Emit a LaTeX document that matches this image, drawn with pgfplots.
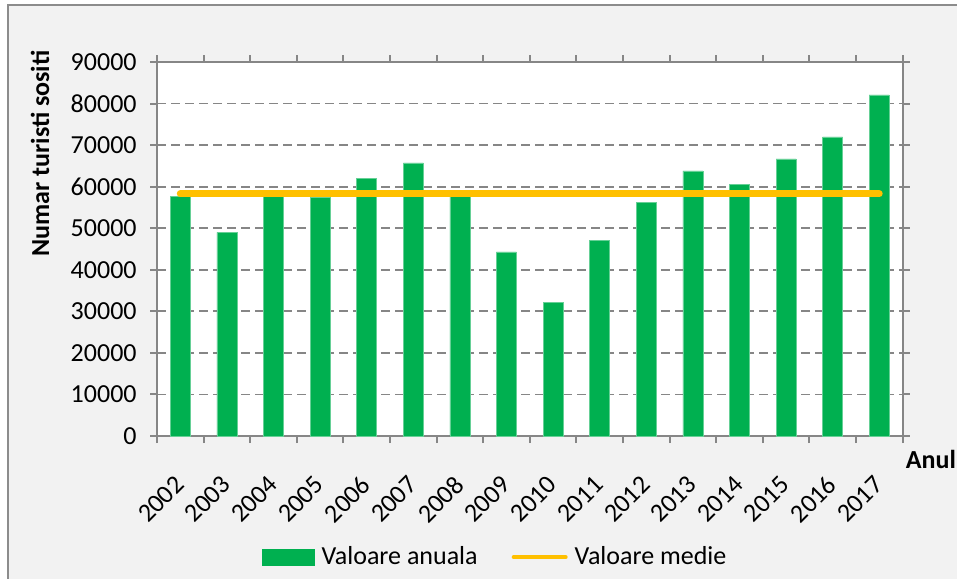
\documentclass[border=0pt]{standalone}
\usepackage{fontspec}
\setmainfont{Carlito}
\usepackage{pgfplots}
\pgfplotsset{compat=1.18}
\definecolor{bargreen}{HTML}{00B050}
\definecolor{meanorange}{HTML}{FFC000}
\definecolor{bggray}{HTML}{F2F2F2}
\definecolor{gridgray}{HTML}{868686}
\definecolor{framegray}{HTML}{8C8C8C}
\newcommand{\cfont}{\fontsize{13}{15.6}\selectfont}
\begin{document}
\begin{tikzpicture}[x=1pt,y=1pt]
\useasboundingbox (0,0) rectangle (478.5,289);
\clip (0,0) rectangle (478.5,289);
\fill[bggray] (4,-10) rectangle (490,286.5);
\draw[framegray, line width=1pt] (4,-10) -- (4,286.5) -- (490,286.5);
\begin{axis}[
  at={(78.5pt,71pt)}, anchor=south west,
  width=372.75pt, height=187pt, scale only axis,
  xmin=-0.5, xmax=15.5, ymin=0, ymax=90000,
  axis background/.style={fill=white},
  axis line style={draw=gridgray, line width=1pt},
  xtick={0,...,15},
  xticklabels={2002,2003,2004,2005,2006,2007,2008,2009,2010,2011,2012,2013,2014,2015,2016,2017},
  major x tick style={draw=none},
  minor xtick={-0.5,0.5,...,15.5},
  minor x tick style={draw=gridgray, line width=1pt},
  tick align=outside,
  major tick length=3.5pt, minor tick length=3.5pt,
  ytick={0,10000,...,90000},
  yticklabels={0,10000,20000,30000,40000,50000,60000,70000,80000,90000},
  scaled y ticks=false,
  y tick style={draw=gridgray, line width=1pt},
  ymajorgrids,
  y grid style={draw=gridgray, line width=0.9pt, dash pattern=on 4.5pt off 2.5pt},
  tick label style={font=\cfont, text=black},
  xticklabel style={yshift=-18pt, xshift=0.5pt, rotate=45, anchor=east, inner sep=1pt},
  yticklabel style={inner sep=1pt, xshift=-5.5pt},
  xlabel={Anul},
  xlabel style={at={(axis description cs:1.0382,-0.064)}, anchor=center, font=\cfont\bfseries, inner sep=0pt},
  ylabel={Numar turisti sositi},
  ylabel style={at={(axis description cs:-0.157,1.032)}, anchor=east, font=\cfont\bfseries, inner sep=0pt},
  legend columns=2,
  legend style={at={(0.455,-0.324)}, anchor=center, draw=none, fill=none,
    font=\cfont, column sep=0pt,
    /tikz/every even column/.append style={column sep=15pt},
    /tikz/every odd column/.append style={column sep=1.5pt}},
]
\addplot[ybar, bar width=10pt, fill=bargreen, draw=bargreen!60!white, line width=0.3pt,
  legend image code/.code={\fill[bargreen] (0pt,-4pt) rectangle (26pt,4pt);}]
  coordinates {
  (0,57700) (1,49000) (2,57800) (3,57500) (4,61900) (5,65700) (6,57800) (7,44300)
  (8,32100) (9,47100) (10,56200) (11,63800) (12,60500) (13,66700) (14,72000) (15,82100)};
\addlegendentry{Valoare anuala}
\addplot[meanorange, line width=3.5pt, line cap=round,
  legend image code/.code={\draw[meanorange, line width=2pt] (0pt,0pt) -- (26pt,0pt);}]
  coordinates {(0,58262) (15,58262)};
\addlegendentry{Valoare medie}
\end{axis}
\end{tikzpicture}
\end{document}
